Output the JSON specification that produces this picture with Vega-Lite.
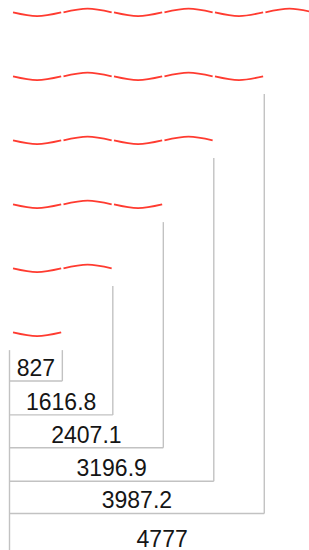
{
  "$schema": "https://vega.github.io/schema/vega-lite/v6.json",
  "width": 309,
  "height": 550,
  "padding": 0,
  "autosize": {"type": "none"},
  "background": "white",
  "config": {"view": {"stroke": null}},
  "datasets": {
    "items": [
      {"label": "4777", "value": 4777, "wave": 0, "line": 16.86},
      {"label": "3987.2", "value": 3987.2, "wave": 2, "line": 15.66},
      {"label": "3196.9", "value": 3196.9, "wave": 4, "line": 14.655},
      {"label": "2407.1", "value": 2407.1, "wave": 6, "line": 13.605},
      {"label": "1616.8", "value": 1616.8, "wave": 8, "line": 12.58},
      {"label": "827", "value": 827, "wave": 10, "line": 11.52}
    ],
    "waves": [
      {"seg": "a1", "x": 55, "y": 0}, {"seg": "a1", "x": 432, "y": 0.116}, {"seg": "a1", "x": 809, "y": 0},
      {"seg": "a2", "x": 845, "y": 0}, {"seg": "a2", "x": 1221.9, "y": -0.116}, {"seg": "a2", "x": 1598.8, "y": 0},
      {"seg": "a3", "x": 1634.8, "y": 0}, {"seg": "a3", "x": 2012, "y": 0.116}, {"seg": "a3", "x": 2389.1, "y": 0},
      {"seg": "a4", "x": 2425.1, "y": 0}, {"seg": "a4", "x": 2802, "y": -0.116}, {"seg": "a4", "x": 3178.9, "y": 0},
      {"seg": "a5", "x": 3214.9, "y": 0}, {"seg": "a5", "x": 3592, "y": 0.116}, {"seg": "a5", "x": 3969.2, "y": 0},
      {"seg": "a6", "x": 4005.2, "y": 0}, {"seg": "a6", "x": 4382, "y": -0.116}, {"seg": "a6", "x": 4759, "y": 0},

      {"seg": "b1", "x": 55, "y": 2}, {"seg": "b1", "x": 432, "y": 2.116}, {"seg": "b1", "x": 809, "y": 2},
      {"seg": "b2", "x": 845, "y": 2}, {"seg": "b2", "x": 1221.9, "y": 1.884}, {"seg": "b2", "x": 1598.8, "y": 2},
      {"seg": "b3", "x": 1634.8, "y": 2}, {"seg": "b3", "x": 2012, "y": 2.116}, {"seg": "b3", "x": 2389.1, "y": 2},
      {"seg": "b4", "x": 2425.1, "y": 2}, {"seg": "b4", "x": 2802, "y": 1.884}, {"seg": "b4", "x": 3178.9, "y": 2},
      {"seg": "b5", "x": 3214.9, "y": 2}, {"seg": "b5", "x": 3592, "y": 2.116}, {"seg": "b5", "x": 3969.2, "y": 2},

      {"seg": "c1", "x": 55, "y": 4}, {"seg": "c1", "x": 432, "y": 4.116}, {"seg": "c1", "x": 809, "y": 4},
      {"seg": "c2", "x": 845, "y": 4}, {"seg": "c2", "x": 1221.9, "y": 3.884}, {"seg": "c2", "x": 1598.8, "y": 4},
      {"seg": "c3", "x": 1634.8, "y": 4}, {"seg": "c3", "x": 2012, "y": 4.116}, {"seg": "c3", "x": 2389.1, "y": 4},
      {"seg": "c4", "x": 2425.1, "y": 4}, {"seg": "c4", "x": 2802, "y": 3.884}, {"seg": "c4", "x": 3178.9, "y": 4},

      {"seg": "d1", "x": 55, "y": 6}, {"seg": "d1", "x": 432, "y": 6.116}, {"seg": "d1", "x": 809, "y": 6},
      {"seg": "d2", "x": 845, "y": 6}, {"seg": "d2", "x": 1221.9, "y": 5.884}, {"seg": "d2", "x": 1598.8, "y": 6},
      {"seg": "d3", "x": 1634.8, "y": 6}, {"seg": "d3", "x": 2012, "y": 6.116}, {"seg": "d3", "x": 2389.1, "y": 6},

      {"seg": "e1", "x": 55, "y": 8}, {"seg": "e1", "x": 432, "y": 8.116}, {"seg": "e1", "x": 809, "y": 8},
      {"seg": "e2", "x": 845, "y": 8}, {"seg": "e2", "x": 1221.9, "y": 7.884}, {"seg": "e2", "x": 1598.8, "y": 8},

      {"seg": "f1", "x": 55, "y": 10}, {"seg": "f1", "x": 432, "y": 10.116}, {"seg": "f1", "x": 809, "y": 10}
    ]
  },
  "layer": [
    {
      "data": {"name": "waves"},
      "mark": {"type": "line", "interpolate": "natural", "color": "#ff3b30", "strokeWidth": 1.8, "clip": true},
      "encoding": {
        "x": {"field": "x", "type": "quantitative", "axis": null, "scale": {"domain": [-148.7, 4687], "nice": false, "zero": false}},
        "y": {"field": "y", "type": "quantitative", "axis": null, "scale": {"domain": [-0.385, 16.8025], "nice": false, "zero": false, "reverse": true}},
        "detail": {"field": "seg", "type": "nominal"}
      }
    },
    {
      "data": {"name": "items"},
      "mark": {"type": "rule", "color": "#c2c2c2", "strokeWidth": 1.4},
      "encoding": {
        "x": {"field": "value", "type": "quantitative"},
        "x2": {"datum": 0},
        "y": {"field": "line", "type": "quantitative"}
      }
    },
    {
      "data": {"name": "items"},
      "mark": {"type": "rule", "color": "#c2c2c2", "strokeWidth": 1.4, "yOffset": 17.8},
      "encoding": {
        "x": {"field": "value", "type": "quantitative"},
        "y": {"field": "wave", "type": "quantitative"},
        "y2": {"field": "line"}
      }
    },
    {
      "data": {"name": "items"},
      "transform": [{"filter": "datum.value < 1000"}],
      "mark": {"type": "rule", "color": "#c2c2c2", "strokeWidth": 1.4, "yOffset": 17.8, "y2Offset": 40},
      "encoding": {
        "x": {"datum": 0, "type": "quantitative"},
        "y": {"field": "wave", "type": "quantitative"},
        "y2": {"datum": 17}
      }
    },
    {
      "data": {"name": "items"},
      "transform": [{"calculate": "datum.value / 2", "as": "mid"}],
      "mark": {"type": "text", "font": "Liberation Sans", "fontSize": 23, "color": "#151515", "align": "center", "baseline": "alphabetic", "yOffset": -5},
      "encoding": {
        "x": {"field": "mid", "type": "quantitative"},
        "y": {"field": "line", "type": "quantitative"},
        "text": {"field": "label", "type": "nominal"}
      }
    }
  ]
}
